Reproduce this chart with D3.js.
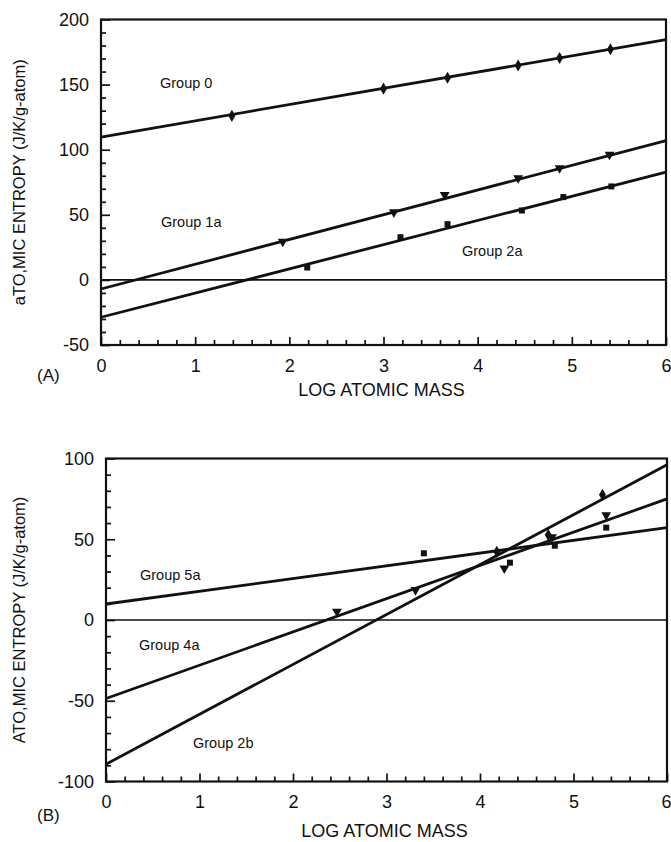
<!DOCTYPE html>
<html>
<head>
<meta charset="utf-8">
<script src="https://cdn.jsdelivr.net/npm/d3@7"></script>
<style>
  body { margin: 0; background: #fff; }
  svg { display: block; }
  text { font-family: "Liberation Sans", Arial, sans-serif; fill: #111; }
</style>
</head>
<body>
<svg id="chart" width="671" height="842"></svg>
<script>
// ---- data ----
// panel A
var group0 = [[1.39, 126], [3.0, 146.9], [3.68, 155.2], [4.43, 164.6], [4.87, 170.5], [5.41, 177.2]];
var group0Fit = [[0, 109.7], [6, 184.6]];
var group1a = [[1.93, 29.5], [3.11, 52], [3.65, 65.4], [4.43, 78.2], [4.87, 85.9], [5.40, 96.2]];
var group1aFit = [[0, -7], [6, 107]];
var group2a = [[2.19, 9.5], [3.18, 32.8], [3.68, 42.8], [4.47, 53.3], [4.91, 63.6], [5.42, 71.8]];
var group2aFit = [[0, -28.7], [6, 82.8]];
// panel B
var group5a = [[3.40, 41.3], [4.32, 35.5], [4.80, 46], [5.35, 57.2]];
var group5aFit = [[0, 9.9], [6, 57.2]];
var group4a = [[2.47, 5.2], [3.31, 18.6], [4.26, 32], [4.77, 51.3], [5.35, 65]];
var group4aFit = [[0, -48.6], [6, 75]];
var group2b = [[4.18, 42.3], [4.73, 52.7], [5.31, 77.5]];
var group2bFit = [[0, -89.3], [6, 96.1]];

var xTicks = [0, 1, 2, 3, 4, 5, 6];
var yTicksA = [-50, 0, 50, 100, 150, 200];
var yTicksB = [-100, -50, 0, 50, 100];

var svg = d3.select('#chart');

function drawPanel(cfg) {
    var x = d3.scaleLinear().domain([0, 6]).range([cfg.left, cfg.right]);
    var y = d3.scaleLinear().domain(cfg.yDomain).range([cfg.bottom, cfg.top]);
    var g = svg.append('g');

    var xMinor = d3.range(0, 6.001, 0.2).filter(function(d) { return Math.abs(d - Math.round(d)) > 0.01; });
    var yMinor = d3.range(cfg.yDomain[0], cfg.yDomain[1] + 0.1, 10).filter(function(d) { return d % 50 !== 0; });

    // inward ticks
    function tickAxis(axis, transform) {
        var a = g.append('g').attr('transform', transform).call(axis);
        a.select('.domain').remove();
        a.selectAll('line').attr('stroke', '#111').attr('stroke-width', 1.7);
        return a;
    }
    tickAxis(d3.axisBottom(x).tickValues(xMinor).tickSize(-5).tickFormat(''), 'translate(0,' + cfg.bottom + ')');
    tickAxis(d3.axisLeft(y).tickValues(yMinor).tickSize(-5).tickFormat(''), 'translate(' + cfg.left + ',0)');

    var xa = tickAxis(d3.axisBottom(x).tickValues(xTicks).tickSize(-8).tickPadding(14).tickFormat(String),
        'translate(0,' + cfg.bottom + ')');
    xa.selectAll('text').attr('font-size', 18).attr('dy', '0.71em').attr('fill', '#111');
    // last label sits right at the page edge, keep it inside
    xa.selectAll('text').filter(function(d) { return d === 6; })
        .attr('text-anchor', 'end').attr('x', 671 - cfg.right);
    var ya = tickAxis(d3.axisLeft(y).tickValues(cfg.yTicks).tickSize(-9).tickPadding(12).tickFormat(String),
        'translate(' + cfg.left + ',0)');
    ya.selectAll('text').attr('font-size', 18).attr('fill', '#111');

    // frame
    g.append('rect')
        .attr('x', cfg.left).attr('y', cfg.top)
        .attr('width', cfg.right - cfg.left).attr('height', cfg.bottom - cfg.top)
        .attr('fill', 'none').attr('stroke', '#111').attr('stroke-width', 2.2);

    // zero line
    g.append('line')
        .attr('x1', x(0)).attr('x2', x(6)).attr('y1', y(0)).attr('y2', y(0))
        .attr('stroke', '#111').attr('stroke-width', 1.7);

    var line = d3.line().x(function(d) { return x(d[0]); }).y(function(d) { return y(d[1]); });

    cfg.series.forEach(function(s) {
        g.append('path').datum(s.fit).attr('d', line)
            .attr('fill', 'none').attr('stroke', '#111').attr('stroke-width', 2.8);
        var sym = d3.symbol().type(s.symbol).size(s.size);
        g.selectAll(null).data(s.points).enter().append('path')
            .attr('d', sym)
            .attr('transform', function(d) {
                return 'translate(' + x(d[0]) + ',' + y(d[1]) + ')' + (s.rotate ? ' rotate(' + s.rotate + ')' : '');
            })
            .attr('fill', '#111');
    });

    cfg.labels.forEach(function(l) {
        g.append('text').attr('x', l.x).attr('y', l.y).attr('font-size', 14.5).text(l.text);
    });

    g.append('text')
        .attr('x', (cfg.left + cfg.right) / 2 - 2).attr('y', cfg.xTitleY)
        .attr('text-anchor', 'middle').attr('font-size', 18)
        .text('LOG ATOMIC MASS');

    g.append('text')
        .attr('transform', 'translate(' + cfg.yTitleX + ',' + ((cfg.top + cfg.bottom) / 2) + ') rotate(-90)')
        .attr('text-anchor', 'middle').attr('font-size', 16.5)
        .text(cfg.yTitle);

    g.append('text')
        .attr('x', 37).attr('y', cfg.tagY)
        .attr('font-family', '"Liberation Serif", "Times New Roman", serif')
        .attr('font-size', 17)
        .text(cfg.tag);
}

var triDown = d3.symbolTriangle;

drawPanel({
    left: 101, right: 666, top: 19.5, bottom: 345,
    yDomain: [-50, 200], yTicks: yTicksA,
    xTitleY: 396, yTitleX: 25, tagY: 381, tag: '(A)',
    yTitle: 'aTO,MIC ENTROPY (J/K/g-atom)',
    series: [
        { points: group0, fit: group0Fit, symbol: d3.symbolDiamond, size: 42 },
        { points: group1a, fit: group1aFit, symbol: triDown, size: 42, rotate: 180 },
        { points: group2a, fit: group2aFit, symbol: d3.symbolSquare, size: 36 }
    ],
    labels: [
        { x: 160, y: 88, text: 'Group 0' },
        { x: 161, y: 227, text: 'Group 1a' },
        { x: 462, y: 256, text: 'Group 2a' }
    ]
});

drawPanel({
    left: 106, right: 667, top: 458.5, bottom: 781.5,
    yDomain: [-100, 100], yTicks: yTicksB,
    xTitleY: 837, yTitleX: 25, tagY: 821, tag: '(B)',
    yTitle: 'ATO,MIC ENTROPY (J/K/g-atom)',
    series: [
        { points: group5a, fit: group5aFit, symbol: d3.symbolSquare, size: 36 },
        { points: group4a, fit: group4aFit, symbol: triDown, size: 42, rotate: 180 },
        { points: group2b, fit: group2bFit, symbol: d3.symbolDiamond, size: 42 }
    ],
    labels: [
        { x: 140, y: 580, text: 'Group 5a' },
        { x: 139, y: 650, text: 'Group 4a' },
        { x: 193, y: 748, text: 'Group 2b' }
    ]
});
</script>
</body>
</html>
